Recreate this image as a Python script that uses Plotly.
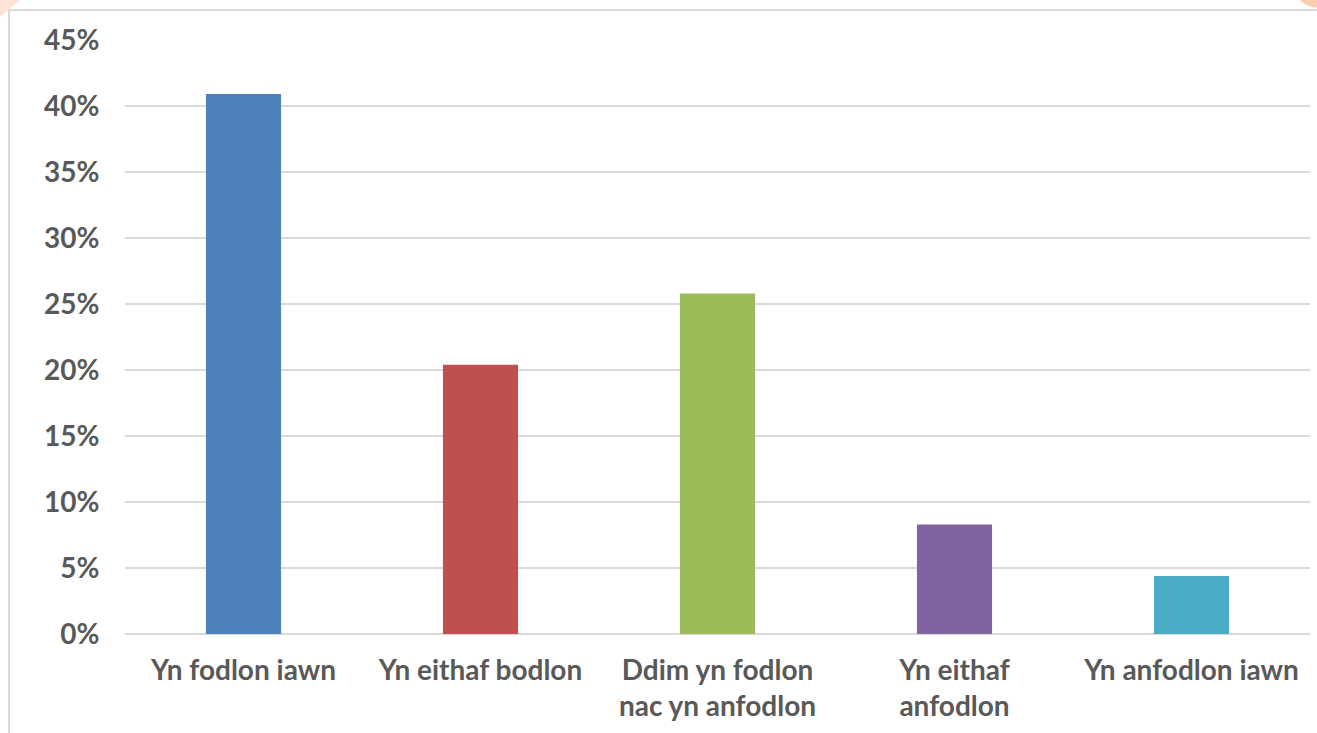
import plotly.graph_objects as go

categories = ["Yn fodlon iawn", "Yn eithaf bodlon", "Ddim yn fodlon<br>nac yn anfodlon",
              "Yn eithaf<br>anfodlon", "Yn anfodlon iawn"]
values = [0.409, 0.204, 0.258, 0.083, 0.044]
colors = ["#4f81bd", "#c0504d", "#9bbb59", "#8064a2", "#4bacc6"]
tick_vals = [0, 0.05, 0.10, 0.15, 0.20, 0.25, 0.30, 0.35, 0.40, 0.45]
tick_text = ["0%", "5%", "10%", "15%", "20%", "25%", "30%", "35%", "40%", "45%"]

W, H = 1317, 733
L, R, T, B = 125, 7, 40, 99
pw, ph = W - L - R, H - T - B

def px(x):
    return (x - L) / pw

def py(y):
    return (H - B - y) / ph

fig = go.Figure(go.Bar(x=categories, y=values, marker=dict(color=colors, line=dict(width=0)),
                       width=0.317, hoverinfo="skip"))

tf = dict(size=28, color="#595959", family="Lato, sans-serif", weight="bold")
fig.update_layout(
    width=W, height=H,
    margin=dict(l=L, r=R, t=T, b=B),
    paper_bgcolor="white", plot_bgcolor="white",
    showlegend=False,
    font=dict(family="Lato, sans-serif", size=28, color="#595959"),
    xaxis=dict(showgrid=False, showline=False, ticks="outside", ticklen=11,
               tickcolor="rgba(0,0,0,0)", tickfont=tf),
    yaxis=dict(range=[0, 0.45], tickvals=tick_vals, ticktext=tick_text, showgrid=True,
               gridcolor="#d9d9d9", gridwidth=1.5, zeroline=True, zerolinecolor="#d9d9d9",
               zerolinewidth=1.5, ticks="outside", ticklen=19, tickcolor="rgba(0,0,0,0)",
               tickfont=tf),
    shapes=[
        dict(type="rect", xref="paper", yref="paper", x0=px(9), x1=px(1340), y0=py(760), y1=py(10),
             line=dict(color="#d9d9d9", width=2), fillcolor="rgba(0,0,0,0)", layer="below"),
        dict(type="path", xref="paper", yref="paper",
             path=f"M {px(0)} {py(0)} L {px(20)} {py(0)} L {px(0)} {py(17)} Z",
             fillcolor="#fde3d5", line=dict(width=0)),
        dict(type="path", xref="paper", yref="paper",
             path=f"M {px(1300)} {py(0)} Q {px(1305)} {py(6)} {px(1317)} {py(8)} L {px(1317)} {py(0)} Z",
             fillcolor="#fbcdb3", line=dict(width=0)),
    ],
)

fig.write_html("out.html", config={"displayModeBar": False},
               post_script="document.body.style.margin='0';")
